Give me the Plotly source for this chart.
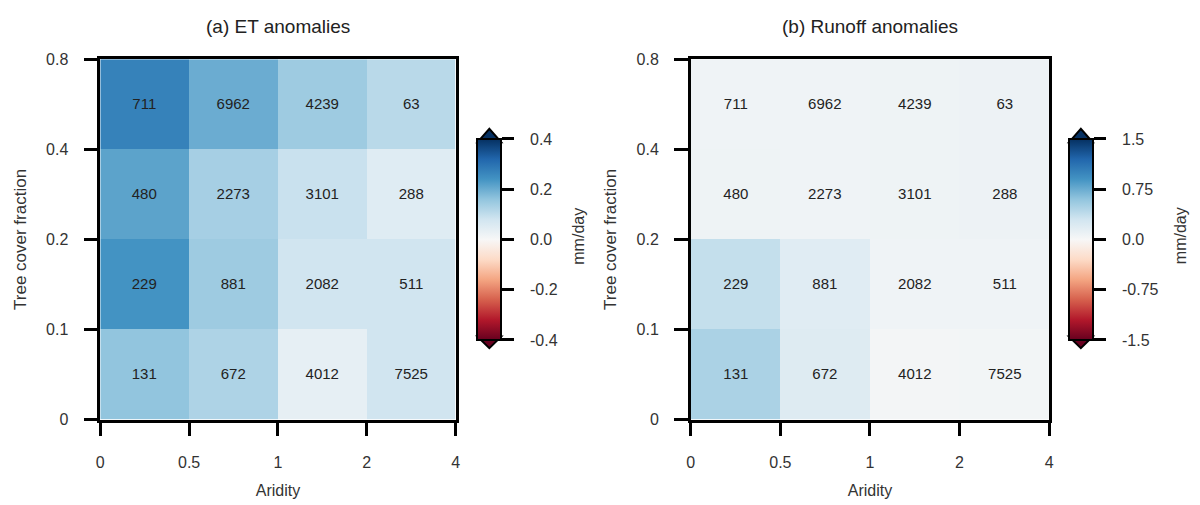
import plotly.graph_objects as go

# ---- data ----
aridity_ticks = ["0", "0.5", "1", "2", "4"]
tree_ticks = ["0", "0.1", "0.2", "0.4", "0.8"]
# rows: tree cover bins bottom->top, cols: aridity bins left->right
counts = [
    [131, 672, 4012, 7525],
    [229, 881, 2082, 511],
    [480, 2273, 3101, 288],
    [711, 6962, 4239, 63],
]
et_anom = [
    [0.16, 0.125, 0.035, 0.08],
    [0.24, 0.145, 0.08, 0.08],
    [0.215, 0.135, 0.09, 0.05],
    [0.27, 0.20, 0.145, 0.11],
]
runoff_anom = [
    [0.48, 0.20, 0.03, 0.04],
    [0.36, 0.18, 0.06, 0.06],
    [0.07, 0.06, 0.07, 0.08],
    [0.06, 0.06, 0.07, 0.08],
]
et_cbar_ticks = [-0.4, -0.2, 0.0, 0.2, 0.4]
et_cbar_text = ["-0.4", "-0.2", "0.0", "0.2", "0.4"]
ro_cbar_ticks = [-1.5, -0.75, 0.0, 0.75, 1.5]
ro_cbar_text = ["-1.5", "-0.75", "0.0", "0.75", "1.5"]

rdbu_r = ["#67001f", "#b2182b", "#d6604d", "#f4a582", "#fddbc7", "#f7f7f7",
          "#d1e5f0", "#92c5de", "#4393c3", "#2166ac", "#053061"]
cscale = [[i / 10, c] for i, c in enumerate(rdbu_r)]

FONT = "Liberation Sans, Arial, sans-serif"
W, H = 1200, 505
NB = "\u00a0\u00a0\u00a0"

def px(x):
    return x / W

def py(y):
    return 1 - y / H

xc = [i + 0.5 for i in range(4)]
yc = [i + 0.5 for i in range(4)]

fig = go.Figure()

panels = [
    dict(z=et_anom, zmax=0.4, ticks=et_cbar_ticks, text=et_cbar_text,
         xd=(97, 455), cbx=477, title="(a) ET anomalies", ax="", lbl=578),
    dict(z=runoff_anom, zmax=1.5, ticks=ro_cbar_ticks, text=ro_cbar_text,
         xd=(692, 1053), cbx=1073, title="(b) Runoff anomalies", ax="2", lbl=1185),
]

top, bot = 53, 426
cb_top, cb_bot, cb_w = 139, 340, 24

shapes = []
annotations = []
for p in panels:
    fig.add_trace(go.Heatmap(
        x=xc, y=yc, z=p["z"], zmin=-p["zmax"], zmax=p["zmax"],
        colorscale=cscale, text=counts, texttemplate="%{text}",
        textfont=dict(family=FONT, size=15, color="#222"),
        xaxis="x" + p["ax"], yaxis="y" + p["ax"],
        colorbar=dict(
            x=px(p["cbx"]), xanchor="left", xref="paper",
            y=py((cb_top + cb_bot) / 2), yanchor="middle",
            len=cb_bot - cb_top, lenmode="pixels",
            thickness=cb_w, thicknessmode="pixels",
            outlinewidth=2, outlinecolor="black",
            tickvals=p["ticks"], ticktext=[NB + t for t in p["text"]],
            ticks="outside", ticklen=12, tickwidth=2.5, tickcolor="black",
            tickfont=dict(family=FONT, size=16, color="#333"),
            xpad=0, ypad=0,
        ),
    ))
    x0, x1 = px(p["cbx"]), px(p["cbx"] + cb_w)
    xm = px(p["cbx"] + cb_w / 2)
    shapes.append(dict(type="path", xref="paper", yref="paper",
                       path=f"M {x0} {py(cb_top)} L {xm} {py(cb_top - 14)} L {x1} {py(cb_top)} Z",
                       fillcolor=rdbu_r[-1], line=dict(color="black", width=2)))
    shapes.append(dict(type="path", xref="paper", yref="paper",
                       path=f"M {x0} {py(cb_bot)} L {xm} {py(cb_bot + 12)} L {x1} {py(cb_bot)} Z",
                       fillcolor=rdbu_r[0], line=dict(color="black", width=2)))
    annotations.append(dict(text="mm/day", xref="paper", yref="paper",
                            x=px(p["lbl"]), y=py(236), textangle=-90, showarrow=False,
                            xanchor="center", yanchor="middle",
                            font=dict(family=FONT, size=16, color="#333")))
    annotations.append(dict(text=p["title"], xref="paper", yref="paper",
                            x=px((p["xd"][0] + p["xd"][1]) / 2), y=py(19),
                            xanchor="center", yanchor="middle",
                            showarrow=False, font=dict(family=FONT, size=19, color="#222")))

axis_common = dict(range=[0, 4], tickvals=[0, 1, 2, 3, 4], ticks="outside",
                   ticklen=14, tickwidth=2.5, tickcolor="black", showline=True,
                   linecolor="black", linewidth=2.5, mirror=True, showgrid=False,
                   zeroline=False, tickfont=dict(family=FONT, size=16, color="#333"),
                   ticklabelstandoff=12, fixedrange=True)

for p in panels:
    s = p["ax"]
    fig.update_layout(**{
        "xaxis" + s: dict(axis_common, domain=[px(p["xd"][0]), px(p["xd"][1])],
                          ticktext=aridity_ticks, anchor="y" + s,
                          title=dict(text="Aridity", font=dict(family=FONT, size=16, color="#333"), standoff=16)),
        "yaxis" + s: dict(axis_common, domain=[py(bot), py(top)],
                          ticktext=tree_ticks, anchor="x" + s,
                          title=dict(text="Tree cover fraction", font=dict(family=FONT, size=17, color="#333"), standoff=16)),
    })

fig.update_layout(width=W, height=H, margin=dict(l=0, r=0, t=0, b=0),
                  plot_bgcolor="white", paper_bgcolor="white",
                  shapes=shapes, annotations=annotations, showlegend=False)

fig.write_html("out.html")
